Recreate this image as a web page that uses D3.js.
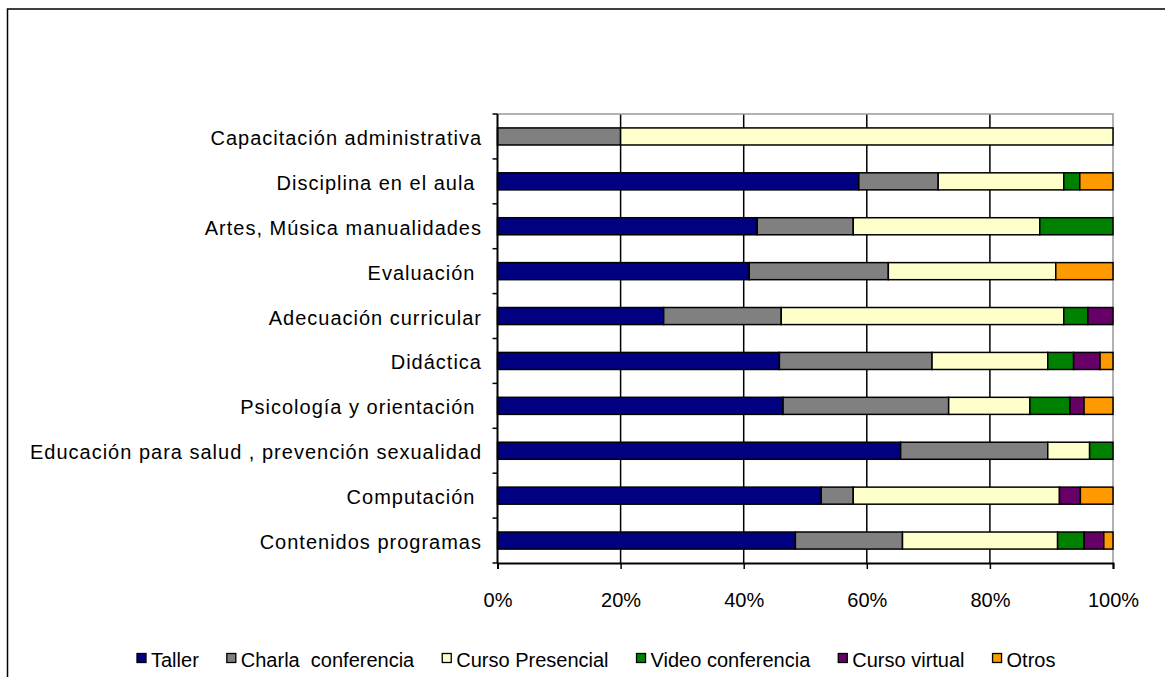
<!DOCTYPE html>
<html>
<head>
<meta charset="utf-8">
<script src="https://cdn.jsdelivr.net/npm/d3@7"></script>
<style>
  html, body { margin: 0; padding: 0; background: #fff; }
  svg { display: block; }
  text { font-family: "Liberation Sans", Arial, sans-serif; fill: #000; }
</style>
</head>
<body>
<svg id="chart" width="1165" height="677"></svg>
<script>
// ---- data ----
const categories = [
  "Capacitación administrativa",
  "Disciplina en el aula ",
  "Artes, Música manualidades",
  "Evaluación ",
  "Adecuación curricular",
  "Didáctica",
  "Psicología y orientación ",
  "Educación para salud , prevención sexualidad",
  "Computación ",
  "Contenidos programas"
];
const seriesNames = ["Taller", "Charla  conferencia", "Curso Presencial", "Video conferencia", "Curso virtual", "Otros"];
const seriesColors = ["#000080", "#808080", "#FFFFCC", "#008000", "#660066", "#FF9900"];
// percentages per category (same order as categories)
const taller       = [0,    58.7, 42.2, 40.9, 27.0, 45.8, 46.4, 65.5, 52.6, 48.4];
const charla       = [20.0, 12.9, 15.6, 22.6, 19.1, 24.8, 26.9, 23.9,  5.2, 17.4];
const cursoPres    = [80.0, 20.4, 30.3, 27.2, 45.9, 18.8, 13.2,  6.8, 33.5, 25.2];
const video        = [0,     2.6, 11.9,  0,    3.9,  4.2,  6.5,  3.8,  0,    4.3];
const cursoVirtual = [0,     0,    0,    0,    4.1,  4.3,  2.3,  0,    3.4,  3.2];
const otros        = [0,     5.4,  0,    9.3,  0,    2.1,  4.7,  0,    5.3,  1.5];
const xTickValues = [0, 0.2, 0.4, 0.6, 0.8, 1.0];

const seriesValues = [taller, charla, cursoPres, video, cursoVirtual, otros];

// ---- layout ----
const svg = d3.select("#chart");
const plot = { left: 497.5, right: 1113, top: 114, bottom: 563 };

// outer frame
svg.append("rect")
  .attr("x", 7.5).attr("y", 9)
  .attr("width", 1200).attr("height", 700)
  .attr("fill", "none").attr("stroke", "#000").attr("stroke-width", 1.5);

const rows = categories.map((c, i) => {
  const obj = { cat: c };
  seriesNames.forEach((s, j) => { obj[s] = seriesValues[j][i]; });
  return obj;
});
const stacked = d3.stack().keys(seriesNames)(rows);

const x = d3.scaleLinear().domain([0, 100]).range([plot.left, plot.right]);
const y = d3.scaleBand().domain(categories).range([plot.top, plot.bottom])
  .paddingInner(0.62).paddingOuter(0.31);

// gridlines
svg.append("g").selectAll("line")
  .data(xTickValues.slice(1, -1))
  .join("line")
  .attr("x1", d => x(d * 100)).attr("x2", d => x(d * 100))
  .attr("y1", plot.top).attr("y2", plot.bottom)
  .attr("stroke", "#000").attr("stroke-width", 1.5);

// plot border (top & right grey)
svg.append("path")
  .attr("d", `M${plot.left},${plot.top}H${plot.right}V${plot.bottom}`)
  .attr("fill", "none").attr("stroke", "#999").attr("stroke-width", 1.5);

// bars
svg.append("g").selectAll("g")
  .data(stacked)
  .join("g")
  .attr("fill", (d, i) => seriesColors[i])
  .selectAll("rect")
  .data(d => d.filter(p => p[1] - p[0] > 0))
  .join("rect")
  .attr("x", d => x(d[0]))
  .attr("width", d => x(d[1]) - x(d[0]))
  .attr("y", d => y(d.data.cat))
  .attr("height", y.bandwidth())
  .attr("stroke", "#000").attr("stroke-width", 1.5);

// x axis
const xAxis = d3.axisBottom(d3.scaleLinear().domain([0, 1]).range([plot.left, plot.right]))
  .tickValues(xTickValues)
  .tickFormat(d3.format(".0%"))
  .tickSize(6)
  .tickPadding(24);
const gx = svg.append("g").attr("transform", `translate(0,${plot.bottom})`).call(xAxis);
gx.select(".domain").attr("stroke", "#000").attr("stroke-width", 2);
gx.selectAll(".tick line").attr("stroke", "#000").attr("stroke-width", 1.5);
gx.selectAll(".tick text").style("font-size", "20px").attr("font-family", null);

// y axis (band boundaries as ticks)
svg.append("line")
  .attr("x1", plot.left).attr("x2", plot.left)
  .attr("y1", plot.top).attr("y2", plot.bottom)
  .attr("stroke", "#000").attr("stroke-width", 2);
const boundaries = d3.range(categories.length + 1).map(i => plot.top + i * y.step());
svg.append("g").selectAll("line")
  .data(boundaries)
  .join("line")
  .attr("x1", plot.left - 5).attr("x2", plot.left)
  .attr("y1", d => d).attr("y2", d => d)
  .attr("stroke", "#000").attr("stroke-width", 1.5);

svg.append("g").selectAll("text")
  .data(categories)
  .join("text")
  .attr("x", 482)
  .attr("y", d => y(d) + y.bandwidth() / 2 + 8.5)
  .attr("text-anchor", "end")
  .style("font-size", "20px")
  .style("letter-spacing", "1px")
  .style("white-space", "pre")
  .text(d => d);

// legend
const legend = svg.append("g");
let lx = 137;
seriesNames.forEach((name, i) => {
  legend.append("rect")
    .attr("x", lx).attr("y", 653.5)
    .attr("width", 9).attr("height", 9)
    .attr("fill", seriesColors[i]).attr("stroke", "#000").attr("stroke-width", 1.3);
  const t = legend.append("text")
    .attr("x", lx + 14).attr("y", 667)
    .style("font-size", "20px")
    .style("white-space", "pre")
    .text(name);
  lx += 14 + t.node().getComputedTextLength() + 28;
});
</script>
</body>
</html>
